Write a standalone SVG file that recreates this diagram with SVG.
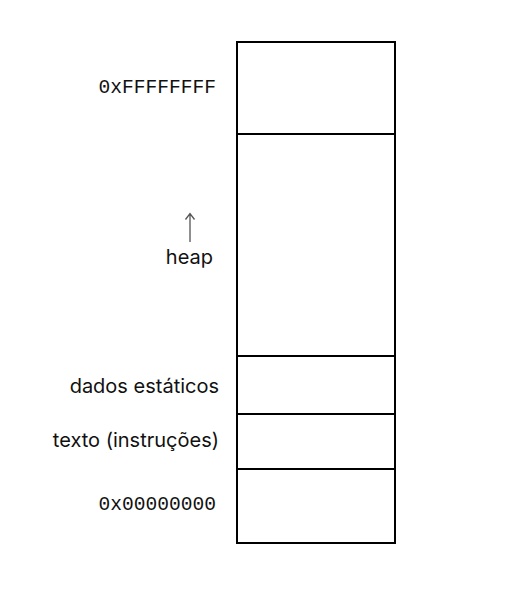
<svg xmlns="http://www.w3.org/2000/svg" width="516" height="603" viewBox="0 0 516 603">
<style>
.box{fill:none;stroke:#000;stroke-width:2}
.lbl{font-family:Inter,"Liberation Sans",sans-serif;font-size:20px;fill:#111;text-anchor:end}
.mono{font-family:"Courier New","Liberation Mono",monospace;font-size:19.6px;fill:#111;text-anchor:end}
</style>
<rect width="516" height="603" fill="#fff"/>
<g id="memory">
<rect class="box" x="237" y="42" width="158" height="501"/>
<line class="box" x1="237" y1="134" x2="395" y2="134"/>
<line class="box" x1="237" y1="356" x2="395" y2="356"/>
<line class="box" x1="237" y1="414" x2="395" y2="414"/>
<line class="box" x1="237" y1="469" x2="395" y2="469"/>
</g>
<g id="labels">
<text class="mono" x="216" y="93">0xFFFFFFFF</text>
<text class="lbl" x="213" y="264">heap</text>
<text class="lbl" x="219" y="393">dados estáticos</text>
<text class="lbl" x="219" y="447">texto (instruções)</text>
<text class="mono" x="216" y="510">0x00000000</text>
</g>
<g id="connectors">
<path d="M190 242 V214 M185.5 219.5 L190 213.5 L194.5 219.5" fill="none" stroke="#555" stroke-width="1.3"/>
</g>
</svg>
